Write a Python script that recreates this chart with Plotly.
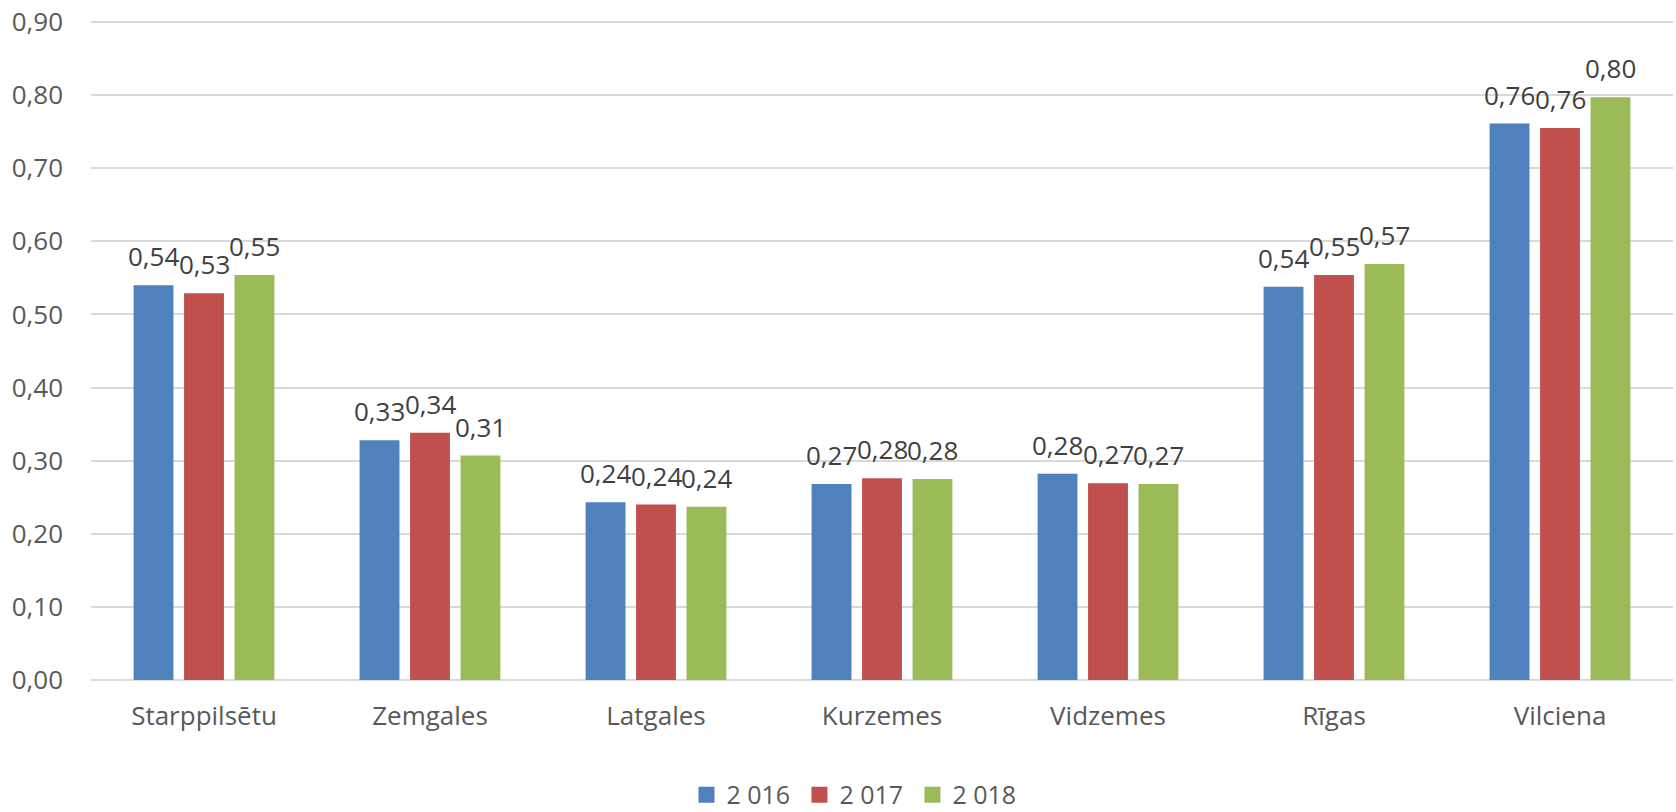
import plotly.graph_objects as go

categories = ["Starppilsētu", "Zemgales", "Latgales", "Kurzemes", "Vidzemes", "Rīgas", "Vilciena"]
series_names = ["2 016", "2 017", "2 018"]
values_2016 = [0.540, 0.328, 0.243, 0.268, 0.282, 0.538, 0.761]
values_2017 = [0.529, 0.338, 0.240, 0.276, 0.269, 0.554, 0.755]
values_2018 = [0.554, 0.307, 0.237, 0.275, 0.268, 0.569, 0.797]
y_ticks = [0.0, 0.1, 0.2, 0.3, 0.4, 0.5, 0.6, 0.7, 0.8, 0.9]

colors = ["#4f81bd", "#c0504d", "#9bbb59"]
all_values = [values_2016, values_2017, values_2018]

FONT = "Open Sans"
TXT = "#595959"
fig = go.Figure()
for name, vals, col in zip(series_names, all_values, colors):
    fig.add_trace(go.Bar(x=categories, y=vals, name=name, marker_color=col,
                         marker_line_width=0, showlegend=False))
# legend entries with square swatches
for name, col in zip(series_names, colors):
    fig.add_trace(go.Scatter(x=[None], y=[None], mode="markers", name=name,
                             marker=dict(symbol="square", size=17, color=col)))

# data labels above bars
offsets = [-50.5, 0, 50.5]
annotations = []
for vals, off in zip(all_values, offsets):
    for c, v in zip(categories, vals):
        annotations.append(dict(x=c, y=v, xref="x", yref="y", text=f"{v:.2f}".replace(".", ","),
                                showarrow=False, xshift=off, yshift=9, yanchor="bottom",
                                font=dict(family=FONT, size=26, color="#404040")))

fig.update_layout(
    width=1676, height=812,
    margin=dict(l=91, r=3, t=20, b=132, autoexpand=False),
    paper_bgcolor="white", plot_bgcolor="white",
    barmode="group", bargap=0.33, bargroupgap=0.21,
    separators=", ",
    font=dict(family=FONT, size=26, color=TXT),
    showlegend=True,
    legend=dict(orientation="h", x=0.3764, xanchor="left", y=-0.209, yanchor="bottom",
                font=dict(family=FONT, size=25, color=TXT), itemwidth=30,
                entrywidth=68, traceorder="normal", bgcolor="rgba(0,0,0,0)"),
    annotations=annotations,
)
fig.update_yaxes(range=[0, 0.9027], tickvals=y_ticks, tickformat=".2f",
                 showgrid=True, gridcolor="#d9d9d9", gridwidth=1.5,
                 zeroline=True, zerolinecolor="#d9d9d9", zerolinewidth=1.5,
                 showline=False, ticks="", ticklabelstandoff=27,
                 ticklabeloverflow="allow",
                 tickfont=dict(family=FONT, size=26, color=TXT))
fig.update_xaxes(showgrid=False, showline=False, ticks="", ticklabelstandoff=18,
                 tickfont=dict(family=FONT, size=26, color=TXT))

# remove the default 8px page margin so the figure fills the window exactly
fig.write_html("out.html", config={"displayModeBar": False},
               post_script="document.body.style.margin='0';")
